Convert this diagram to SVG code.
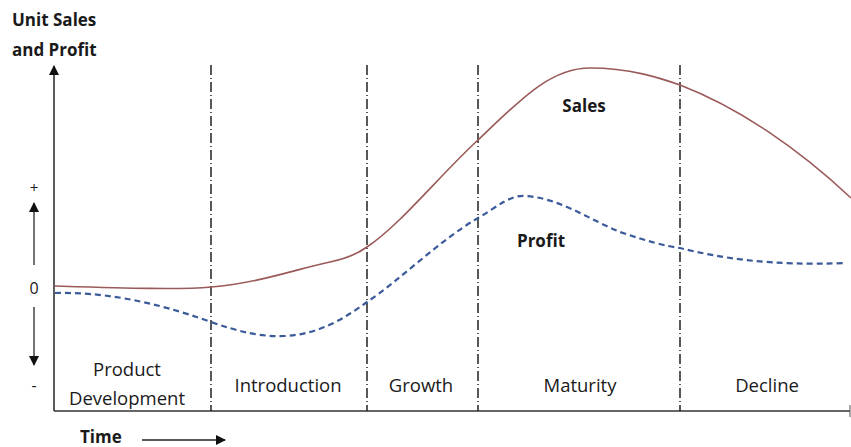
<svg xmlns="http://www.w3.org/2000/svg" width="851" height="447" viewBox="0 0 851 447">
<style>
text{font-family:"Open Sans","Liberation Sans",sans-serif;fill:#1a1a1a}
.lbl{font-size:18.5px;text-anchor:middle}
.b{font-weight:bold;font-size:17px}
.axis{stroke:#333;stroke-width:1.6;fill:none}
.div{stroke:#222;stroke-width:1.5;stroke-dasharray:10 3 1 3;fill:none}
.sales{stroke:#9a5a5a;stroke-width:1.6;fill:none}
.profit{stroke:#3a5a99;stroke-width:2.2;stroke-dasharray:6 4;fill:none}
</style>
<defs>
<marker id="ah" viewBox="0 0 10 10" refX="9" refY="5" markerWidth="10" markerHeight="10" markerUnits="userSpaceOnUse" orient="auto">
<path d="M0,0 L10,5 L0,10 z" fill="#111"/>
</marker>
</defs>
<g id="axes">
<line class="axis" x1="54" y1="411" x2="54" y2="66" marker-end="url(#ah)"/>
<line class="axis" x1="54" y1="411" x2="850" y2="411"/>
<line x1="850" y1="405" x2="850" y2="417" stroke="#555" stroke-width="1"/>
</g>
<g id="connectors">
<line class="div" x1="211" y1="65" x2="211" y2="411"/>
<line class="div" x1="367" y1="65" x2="367" y2="411"/>
<line class="div" x1="478" y1="65" x2="478" y2="411"/>
<line class="div" x1="680" y1="65" x2="680" y2="411"/>
<line x1="34" y1="265" x2="34" y2="203" stroke="#444" stroke-width="1.5" marker-end="url(#ah)"/>
<line x1="34" y1="307" x2="34" y2="365" stroke="#444" stroke-width="1.5" marker-end="url(#ah)"/>
<line x1="142" y1="440" x2="225" y2="440" stroke="#222" stroke-width="1.3" marker-end="url(#ah)"/>
</g>
<g id="sales">
<path class="sales" d="M55,286 C120,288 180,290 211,287 C260,283 300,268 330,262 C350,258 360,252 367,247 C400,225 440,175 478,140 C520,100 550,68 590,68 C630,68 660,78 680,85 C740,108 800,150 851,198"/>
<text class="b" x="584" y="112" text-anchor="middle">Sales</text>
</g>
<g id="profit">
<path class="profit" d="M55,293 C100,292 150,300 211,322 C240,332 260,337 285,336 C320,334 345,318 367,302 C400,280 440,240 478,218 C500,205 510,195 525,196 C560,198 590,220 620,232 C650,242 665,246 680,248 C720,258 770,266 845,263"/>
<text class="b" x="541" y="247" text-anchor="middle">Profit</text>
</g>
<g id="title">
<text class="b" x="12" y="26">Unit Sales</text>
<text class="b" x="12" y="56">and Profit</text>
</g>
<g id="ticks">
<text x="34" y="193" font-size="15" text-anchor="middle">+</text>
<text x="34" y="294" font-size="16" text-anchor="middle">0</text>
<text x="34" y="391" font-size="16" text-anchor="middle">-</text>
</g>
<g id="time">
<text class="b" x="80" y="443">Time</text>
</g>
<g id="phase-product"><text class="lbl" x="127" y="376">Product</text><text class="lbl" x="127" y="405">Development</text></g>
<g id="phase-introduction"><text class="lbl" x="288" y="392">Introduction</text></g>
<g id="phase-growth"><text class="lbl" x="421" y="392">Growth</text></g>
<g id="phase-maturity"><text class="lbl" x="580" y="392">Maturity</text></g>
<g id="phase-decline"><text class="lbl" x="767" y="392">Decline</text></g>
</svg>
